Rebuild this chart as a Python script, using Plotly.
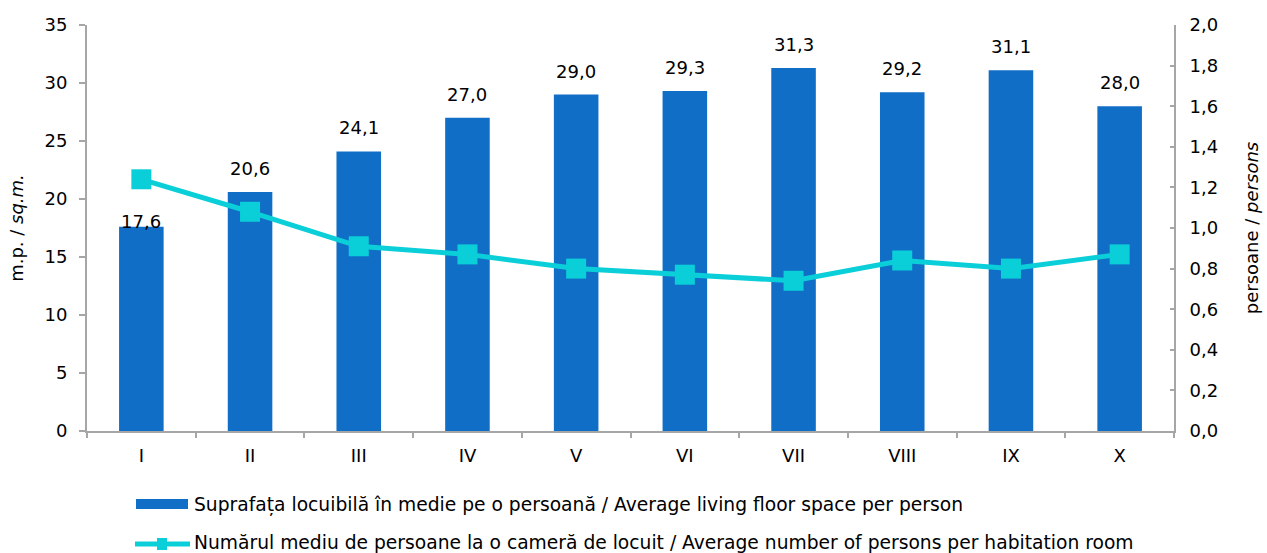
import plotly.graph_objects as go

# Regions (Roman numerals) on the category axis
regions = ["I", "II", "III", "IV", "V", "VI", "VII", "VIII", "IX", "X"]

# Average living floor space per person, sq.m.
floor_space = [17.6, 20.6, 24.1, 27.0, 29.0, 29.3, 31.3, 29.2, 31.1, 28.0]

# Average number of persons per habitation room
persons_per_room = [1.24, 1.08, 0.91, 0.87, 0.80, 0.77, 0.74, 0.84, 0.80, 0.87]

bar_name = "Suprafața locuibilă în medie pe o persoană / Average living floor space per person"
line_name = "Numărul mediu de persoane la o cameră de locuit / Average number of persons per habitation room"

BAR_COLOR = "#106EC6"
LINE_COLOR = "#0BCFD8"
AXIS_COLOR = "#A6A6A6"
FONT = "DejaVu Sans, Arial, sans-serif"
FS = 18
LEGEND_FS = 18.7

# plot area in pixels
W, H = 1267, 553
L, R, T, B = 87, 93, 25, 122
PW, PH = W - L - R, H - T - B


def px_x(x):
    return (x - L) / PW


def px_y(y):
    return (H - B - y) / PH


fig = go.Figure()

fig.add_trace(go.Bar(
    x=regions, y=floor_space, name=bar_name,
    marker=dict(color=BAR_COLOR, line=dict(width=0)),
    yaxis="y", showlegend=False,
))

fig.add_trace(go.Scatter(
    x=regions, y=persons_per_room, name=line_name,
    mode="lines+markers",
    line=dict(color=LINE_COLOR, width=5),
    marker=dict(symbol="square", size=20, color=LINE_COLOR),
    yaxis="y2", showlegend=False,
))

# value labels above bars (the first one sits lower, below the line marker)
annotations = []
for i, (cat, val) in enumerate(zip(regions, floor_space)):
    annotations.append(dict(
        x=cat, y=val, xref="x", yref="y",
        text=f"{val:.1f}".replace(".", ","),
        showarrow=False, yanchor="bottom",
        yshift=(-7 if i == 0 else 11),
        font=dict(family=FONT, size=FS, color="#000000"),
    ))

# legend drawn below the plot
shapes = [
    dict(type="rect", xref="paper", yref="paper",
         x0=px_x(136), x1=px_x(188), y0=px_y(509), y1=px_y(499),
         fillcolor=BAR_COLOR, line=dict(width=0)),
    dict(type="line", xref="paper", yref="paper",
         x0=px_x(135), x1=px_x(190), y0=px_y(544), y1=px_y(544),
         line=dict(color=LINE_COLOR, width=5)),
    dict(type="rect", xref="paper", yref="paper",
         x0=px_x(157), x1=px_x(167), y0=px_y(550), y1=px_y(538),
         fillcolor=LINE_COLOR, line=dict(width=0)),
]
annotations += [
    dict(x=px_x(192), y=px_y(505), xref="paper", yref="paper",
         text=bar_name, showarrow=False, xanchor="left", yanchor="middle",
         font=dict(family=FONT, size=LEGEND_FS, color="#000000")),
    dict(x=px_x(192), y=px_y(542), xref="paper", yref="paper",
         text=line_name, showarrow=False, xanchor="left", yanchor="middle",
         font=dict(family=FONT, size=LEGEND_FS, color="#000000")),
]

fig.update_layout(
    width=W, height=H,
    margin=dict(l=L, r=R, t=T, b=B, pad=0, autoexpand=False),
    paper_bgcolor="white", plot_bgcolor="white",
    separators=",.",
    font=dict(family=FONT, size=FS, color="#000000"),
    bargap=0.59,
    showlegend=False,
    shapes=shapes,
    annotations=annotations,
    xaxis=dict(
        type="category", range=[-0.5, 9.5], automargin=False,
        showline=True, linecolor=AXIS_COLOR, linewidth=2,
        ticks="outside", ticklen=5, tickcolor=AXIS_COLOR, tickwidth=2,
        tickson="boundaries", showgrid=False, zeroline=False,
        tickfont=dict(size=FS), ticklabelstandoff=7,
    ),
    yaxis=dict(
        range=[0, 35], dtick=5, tick0=0, automargin=False,
        showline=True, linecolor=AXIS_COLOR, linewidth=2,
        ticks="outside", ticklen=6, tickcolor=AXIS_COLOR, tickwidth=2,
        showgrid=False, zeroline=False,
        tickfont=dict(size=FS), ticklabelstandoff=8,
        title=dict(text="m.p. / <i>sq.m.</i>", font=dict(size=FS), standoff=16),
    ),
    yaxis2=dict(
        range=[0, 2], dtick=0.2, tick0=0, tickformat=".1f", automargin=False,
        overlaying="y", side="right",
        showline=True, linecolor=AXIS_COLOR, linewidth=2,
        ticks="inside", ticklen=4, tickcolor=AXIS_COLOR, tickwidth=2,
        showgrid=False, zeroline=False,
        tickfont=dict(size=FS), ticklabelstandoff=10,
        title=dict(text="persoane / <i>persons</i>", font=dict(size=FS), standoff=28),
    ),
)

fig.write_html("out.html")
